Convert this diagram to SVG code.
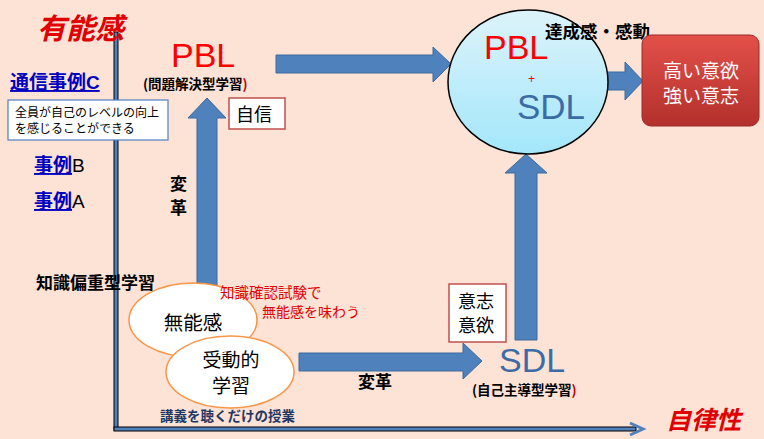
<svg xmlns="http://www.w3.org/2000/svg" width="764" height="439" viewBox="0 0 764 439">
<style>
text{font-family:"Noto Sans CJK JP","Liberation Sans",sans-serif}
.lat{font-family:"Liberation Sans",Arial,sans-serif}
.arrow{fill:#4F81BD;stroke:#3D6A9E;stroke-width:1}
.lbl{fill:#000;font-size:18px}
.box{fill:#fff;stroke:#C0504D;stroke-width:1.5}
.ell{fill:#fff;stroke:#F79646;stroke-width:1.5}
.paren{font-size:13.5px;font-weight:bold;fill:#000}
</style>
<defs>
<linearGradient id="cg" x1="0" y1="0" x2="0" y2="1">
<stop offset="0" stop-color="#DDF3FA"/>
<stop offset="1" stop-color="#A3E7FB"/>
</linearGradient>
<linearGradient id="rg" x1="0" y1="0" x2="0" y2="1">
<stop offset="0" stop-color="#E3504A"/>
<stop offset="1" stop-color="#B3302C"/>
</linearGradient>
</defs>
<rect width="764" height="439" fill="#FCE3D6"/>

<g id="axes">
<rect x="114" y="32" width="4" height="398" fill="#4F81BD" stroke="#000" stroke-width="1"/>
<rect x="114" y="427" width="522" height="4" fill="#4F81BD" stroke="#000" stroke-width="1"/>
<path d="M630 423 L643 429 L630 435" fill="none" stroke="#4F81BD" stroke-width="3"/>
<text x="37" y="39" font-size="29" font-style="italic" font-weight="bold" fill="#E00000">有能感</text>
<text x="666" y="429" font-size="25" font-style="italic" font-weight="bold" fill="#E00000">自律性</text>
</g>

<g id="cases">
<text x="10" y="89" font-size="19" font-weight="bold" fill="#0000C0" text-decoration="underline">通信事例<tspan class="lat">C</tspan></text>
<text x="34" y="172" font-size="19" font-weight="bold"><tspan fill="#0000C0" text-decoration="underline">事例</tspan><tspan class="lat" fill="#000" font-weight="normal">B</tspan></text>
<text x="34" y="208" font-size="19" font-weight="bold"><tspan fill="#0000C0" text-decoration="underline">事例</tspan><tspan class="lat" fill="#000" font-weight="normal">A</tspan></text>
</g>

<g id="note-all">
<rect x="8" y="100" width="160" height="40" fill="#fff" stroke="#4F81BD" stroke-width="1.2"/>
<text x="15" y="117" font-size="12" fill="#000">全員が自己のレベルの向上</text>
<text x="15" y="133" font-size="12" fill="#000">を感じることができる</text>
</g>

<g id="connectors">
<path class="arrow" d="M197 285 L197 118 L188 118 L207 98 L226 118 L217 118 L217 285 Z"/>
<path class="arrow" d="M276 55 L433 55 L433 47 L451 64 L433 82 L433 73 L276 73 Z"/>
<path class="arrow" d="M605 72 L625 72 L625 62 L643 81 L625 100 L625 90 L605 90 Z"/>
<path class="arrow" d="M515 340 L515 173 L505 173 L526 154 L547 173 L537 173 L537 340 Z"/>
<path class="arrow" d="M299 353 L463 353 L463 343 L482 361 L463 379 L463 371 L299 371 Z"/>
<text x="170" y="190" font-size="17" font-weight="bold" fill="#000">変</text>
<text x="170" y="214" font-size="17" font-weight="bold" fill="#000">革</text>
<text x="358" y="388" font-size="17" font-weight="bold" fill="#000">変革</text>
</g>

<g id="pbl">
<text class="lat" x="171" y="67" font-size="34" fill="#FF0000">PBL</text>
<text class="paren" x="143" y="89">(問題解決型学習<tspan fill="#C00000">)</tspan></text>
</g>

<g id="confidence">
<rect class="box" x="229" y="98" width="56" height="31"/>
<text class="lbl" x="236" y="121">自信</text>
</g>

<g id="combined">
<ellipse cx="528" cy="82" rx="80" ry="72" fill="url(#cg)" stroke="#000" stroke-width="1.5"/>
<text class="lat" x="484" y="59" font-size="34" fill="#FF0000">PBL</text>
<text class="lat" x="528" y="83" font-size="12" fill="#FF0000">+</text>
<text class="lat" x="517" y="119" font-size="35" fill="#3C6CA8">SDL</text>
<text x="545" y="38" font-size="17.5" font-weight="bold" fill="#000">達成感・感動</text>
</g>

<g id="motivation">
<rect x="642" y="35" width="117" height="91" rx="9" fill="url(#rg)" stroke="#9B2A27" stroke-width="1"/>
<text x="701" y="78" font-size="19" fill="#fff" text-anchor="middle">高い意欲</text>
<text x="701" y="103" font-size="19" fill="#fff" text-anchor="middle">強い意志</text>
</g>

<g id="will">
<rect class="box" x="449" y="284" width="57" height="58"/>
<text class="lbl" x="458" y="308">意志</text>
<text class="lbl" x="458" y="332">意欲</text>
</g>

<g id="sdl">
<text class="lat" x="499" y="372" font-size="34" fill="#3C6CA8">SDL</text>
<text class="paren" x="472" y="395">(自己主導型学習<tspan fill="#C00000">)</tspan></text>
</g>

<g id="incompetence">
<ellipse class="ell" cx="193" cy="320" rx="64" ry="37"/>
<text x="193" y="330" font-size="19.5" fill="#000" text-anchor="middle">無能感</text>
</g>

<g id="passive">
<ellipse class="ell" cx="230" cy="372" rx="64" ry="36"/>
<text x="231" y="367" font-size="19" fill="#000" text-anchor="middle">受動的</text>
<text x="231" y="393" font-size="19" fill="#000" text-anchor="middle">学習</text>
<text x="160" y="421" font-size="13.5" font-weight="bold" fill="#1F3864">講義を聴くだけの授業</text>
</g>

<g id="knowledge">
<text x="36" y="289" font-size="17" font-weight="bold" fill="#000">知識偏重型学習</text>
<text x="220" y="298" font-size="14.5" fill="#E00000">知識確認試験で</text>
<text x="262" y="317" font-size="14" fill="#E00000">無能感を味わう</text>
</g>
</svg>
